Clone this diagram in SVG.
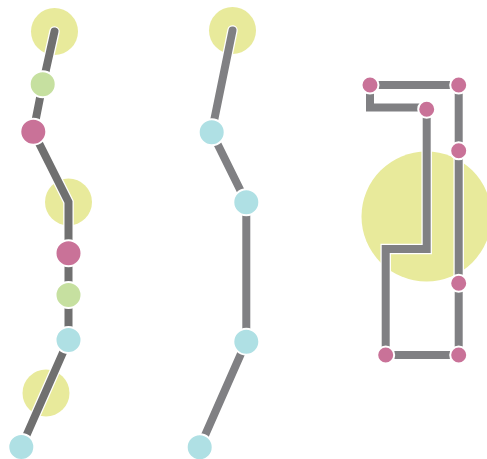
<svg xmlns="http://www.w3.org/2000/svg" width="487" height="459" viewBox="0 0 487 459">
<style>
.bg{fill:#e8ea9b}
.casing{fill:none;stroke:#ffffff;stroke-width:10.5;stroke-linejoin:miter;stroke-linecap:round}
.line{fill:none;stroke:#808083;stroke-width:8;stroke-linejoin:miter;stroke-linecap:round}
.line.dark{stroke:#707070}
.n{stroke:#ffffff;stroke-width:2}
.pink{fill:#c97298}
.green{fill:#c6e0a0}
.cyan{fill:#afe0e4}
</style>
<rect width="487" height="459" fill="#ffffff"/>
<g id="areas">
<circle id="area-a1" class="bg" cx="54.5" cy="31.5" r="23.5"/>
<circle id="area-a2" class="bg" cx="68.5" cy="202" r="23.5"/>
<circle id="area-a3" class="bg" cx="46" cy="393" r="23.5"/>
<circle id="area-b1" class="bg" cx="232.5" cy="30.5" r="23.5"/>
<circle id="area-c1" class="bg" cx="426.5" cy="216.5" r="65"/>
</g>
<g id="connectors">
<path class="casing" d="M54.5,31.5 L42.7,84.3"/>
<path class="line dark" d="M54.5,31.5 L42.7,84.3"/>
<path class="casing" d="M42.7,84.3 L33.3,131.7"/>
<path class="line dark" d="M42.7,84.3 L33.3,131.7"/>
<path class="casing" d="M33.3,131.7 L68.5,202 L68.5,253.3"/>
<path class="line dark" d="M33.3,131.7 L68.5,202 L68.5,253.3"/>
<path class="casing" d="M68.5,253.3 L68.5,295"/>
<path class="line dark" d="M68.5,253.3 L68.5,295"/>
<path class="casing" d="M68.5,295 L68.5,340"/>
<path class="line dark" d="M68.5,295 L68.5,340"/>
<path class="casing" d="M68.5,340 L21.3,447"/>
<path class="line dark" d="M68.5,340 L21.3,447"/>

<path class="casing" d="M232.5,30.5 L211.7,132.3"/>
<path class="line" d="M232.5,30.5 L211.7,132.3"/>
<path class="casing" d="M211.7,132.3 L246.3,202.3"/>
<path class="line" d="M211.7,132.3 L246.3,202.3"/>
<path class="casing" d="M246.3,202.3 L246.3,341.7"/>
<path class="line" d="M246.3,202.3 L246.3,341.7"/>
<path class="casing" d="M246.3,341.7 L199.7,447.3"/>
<path class="line" d="M246.3,341.7 L199.7,447.3"/>

<path class="casing" d="M370,85 L458.7,85"/>
<path class="line" d="M370,85 L458.7,85"/>
<path class="casing" d="M370,85 L370,107.5 L426.7,107.5"/>
<path class="line" d="M370,85 L370,107.5 L426.7,107.5"/>
<path class="casing" d="M426.7,109.3 L426.7,249 L385.7,249 L385.7,355"/>
<path class="line" d="M426.7,109.3 L426.7,249 L385.7,249 L385.7,355"/>
<path class="casing" d="M385.7,355 L458.7,355"/>
<path class="line" d="M385.7,355 L458.7,355"/>
<path class="casing" d="M458.7,85 L458.7,150.7"/>
<path class="line" d="M458.7,85 L458.7,150.7"/>
<path class="casing" d="M458.7,150.7 L458.7,283.3"/>
<path class="line" d="M458.7,150.7 L458.7,283.3"/>
<path class="casing" d="M458.7,283.3 L458.7,355"/>
<path class="line" d="M458.7,283.3 L458.7,355"/>
</g>
<g id="n-a1"><circle class="n green" cx="42.7" cy="84.3" r="13"/></g>
<g id="n-a2"><circle class="n pink" cx="33.3" cy="131.7" r="13"/></g>
<g id="n-a3"><circle class="n pink" cx="68.5" cy="253.3" r="13"/></g>
<g id="n-a4"><circle class="n green" cx="68.5" cy="295" r="13"/></g>
<g id="n-a5"><circle class="n cyan" cx="68.5" cy="340" r="13"/></g>
<g id="n-a6"><circle class="n cyan" cx="21.3" cy="447" r="13"/></g>
<g id="n-b1"><circle class="n cyan" cx="211.7" cy="132.3" r="13"/></g>
<g id="n-b2"><circle class="n cyan" cx="246.3" cy="202.3" r="13"/></g>
<g id="n-b3"><circle class="n cyan" cx="246.3" cy="341.7" r="13"/></g>
<g id="n-b4"><circle class="n cyan" cx="199.7" cy="447.3" r="13"/></g>
<g id="n-c1"><circle class="n pink" cx="370" cy="85" r="8.5"/></g>
<g id="n-c2"><circle class="n pink" cx="458.7" cy="85" r="8.5"/></g>
<g id="n-c3"><circle class="n pink" cx="426.7" cy="109.3" r="8.5"/></g>
<g id="n-c4"><circle class="n pink" cx="458.7" cy="150.7" r="8.5"/></g>
<g id="n-c5"><circle class="n pink" cx="458.7" cy="283.3" r="8.5"/></g>
<g id="n-c6"><circle class="n pink" cx="385.7" cy="355" r="8.5"/></g>
<g id="n-c7"><circle class="n pink" cx="458.7" cy="355" r="8.5"/></g>
</svg>
